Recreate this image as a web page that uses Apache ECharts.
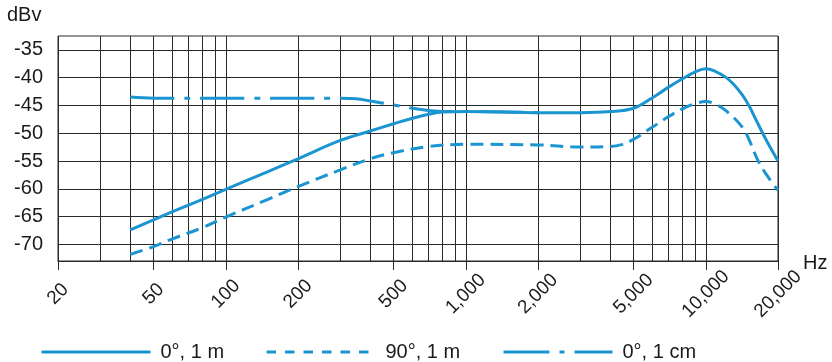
<!DOCTYPE html>
<html>
<head>
<meta charset="utf-8">
<script src="https://cdn.jsdelivr.net/npm/echarts@6/dist/echarts.min.js"></script>
<style>
html,body{margin:0;padding:0;background:#fff;}
#chart{width:832px;height:362px;}
</style>
</head>
<body>
<div id="chart"></div>
<script>
// ---- data ----
const seriesNames = ['0°, 1 m', '90°, 1 m', '0°, 1 cm'];
const tickHz = [20, 50, 100, 200, 500, 1000, 2000, 5000, 10000, 20000];
const gridHz = [20, 30, 40, 50, 60, 70, 80, 90, 100, 200, 300, 400, 500, 600, 700, 800, 900,
  1000, 2000, 3000, 4000, 5000, 6000, 7000, 8000, 9000, 10000, 20000];
const yTicks = [-35, -40, -45, -50, -55, -60, -65, -70];

const freq0 = [40, 50, 60, 80, 100, 150, 200, 300, 400, 500, 600, 700, 800, 1000, 2000, 3000, 4000, 5000, 6000, 7000, 8000, 9000, 10000, 11000, 12100, 13000, 14200, 15200, 16500, 18000, 20000];
const db0 = [-67.4, -65.6, -64.1, -61.9, -60.1, -56.9, -54.6, -51.3, -49.6, -48.3, -47.3, -46.6, -46.2, -46.1, -46.3, -46.3, -46.1, -45.5, -43.6, -41.7, -40.2, -39.0, -38.4, -38.9, -39.9, -41.1, -43.1, -45.2, -48.3, -51.5, -55.0];

const freq1 = [40, 50, 60, 80, 100, 150, 200, 300, 400, 500, 700, 1000, 2000, 3000, 4000, 4500, 5000, 6000, 7000, 8000, 9000, 10000, 11000, 12100, 14200, 15200, 16500, 18000, 20000];
const db1 = [-71.8, -70.4, -69.0, -67.0, -65.1, -61.9, -59.6, -56.6, -54.6, -53.5, -52.4, -52.0, -52.1, -52.5, -52.4, -52.0, -51.1, -48.9, -47.0, -45.6, -44.7, -44.3, -44.8, -45.9, -48.9, -51.3, -54.9, -57.6, -60.3];

const freq2 = [40, 50, 100, 200, 300, 350, 400, 500, 600, 700, 800, 1000, 2000];
const db2 = [-43.5, -43.7, -43.7, -43.7, -43.7, -43.8, -44.2, -44.9, -45.5, -45.9, -46.1, -46.1, -46.3];

// ---- styling ----
const BLUE = '#1b95d1';
const INK = '#1a1a1a';
const GRID = '#2a2a2a';
const FONT = '"Liberation Sans", Arial, sans-serif';

const lg = Math.log10;
const xMin = 20, xMax = 20000;
const fmtHz = v => String(Math.round(Math.pow(10, v))).replace(/\B(?=(\d{3})+(?!\d))/g, ',');
const pairs = (f, d) => f.map((x, i) => [x, d[i]]);

const lineStyles = [
  { width: 3, type: 'solid' },
  { width: 3, type: [13, 7] },
  { width: 3, type: [44, 10, 6, 10] }
];
const legendStyles = [
  { width: 3, type: 'solid' },
  { width: 3, type: [9.5, 9] },
  { width: 3, type: [46, 10, 5, 10] }
];
const legendLeft = [40, 265, 502];

const chart = echarts.init(document.getElementById('chart'), null, { renderer: 'canvas' });
chart.setOption({
  animation: false,
  backgroundColor: '#fff',
  textStyle: { fontFamily: FONT },
  grid: { left: 58, right: 54, top: 36, bottom: 101, show: true, borderColor: GRID, borderWidth: 1, backgroundColor: 'transparent' },
  xAxis: [
    { // data axis (logarithmic)
      type: 'log', logBase: 10, min: xMin, max: xMax,
      axisLine: { show: true, lineStyle: { color: GRID, width: 1 } },
      axisTick: { show: false }, axisLabel: { show: false },
      splitLine: { show: false }, minorTick: { show: false }, minorSplitLine: { show: false }
    },
    { // grid lines, aligned in log space
      type: 'value', min: lg(xMin), max: lg(xMax), position: 'bottom',
      axisLine: { show: false },
      axisTick: { show: false, customValues: gridHz.map(lg) },
      axisLabel: { show: false, customValues: gridHz.map(lg) },
      splitLine: { show: true, lineStyle: { color: GRID, width: 1 } }
    },
    { // labelled ticks
      type: 'value', min: lg(xMin), max: lg(xMax), position: 'bottom',
      axisLine: { show: false },
      axisTick: { show: true, length: 9, customValues: tickHz.map(lg), lineStyle: { color: GRID, width: 1 } },
      axisLabel: {
        customValues: tickHz.map(lg), formatter: fmtHz,
        rotate: 45, align: 'center', verticalAlign: 'middle', margin: 33,
        color: INK, fontSize: 19, fontFamily: FONT
      },
      splitLine: { show: false }
    }
  ],
  yAxis: {
    type: 'value', min: -73, max: -32.5,
    axisLine: { show: false },
    axisTick: { show: false, customValues: yTicks },
    axisLabel: { customValues: yTicks, color: INK, fontSize: 20, fontFamily: FONT, margin: 15 },
    splitLine: { show: true, lineStyle: { color: GRID, width: 1 } }
  },
  legend: seriesNames.map((n, i) => ({
    data: [n], left: legendLeft[i], top: 342, padding: 0,
    itemWidth: 109, itemHeight: 14, itemGap: 0,
    lineStyle: legendStyles[i],
    itemStyle: { color: 'rgba(0,0,0,0)', borderWidth: 0, opacity: 0 },
    textStyle: { color: INK, fontSize: 20, fontFamily: FONT, padding: [0, 0, 0, 5] }
  })),
  graphic: [
    { type: 'text', left: 7, top: 5, style: { text: 'dBv', fill: INK, font: '20px ' + FONT } },
    { type: 'text', left: 803, top: 253, style: { text: 'Hz', fill: INK, font: '20px ' + FONT } }
  ],
  series: [
    { name: seriesNames[2], type: 'line', xAxisIndex: 0, data: pairs(freq2, db2), smooth: 0.4, symbol: 'none', lineStyle: Object.assign({ color: BLUE }, lineStyles[2]), itemStyle: { color: BLUE }, z: 3 },
    { name: seriesNames[1], type: 'line', xAxisIndex: 0, data: pairs(freq1, db1), smooth: 0.4, symbol: 'none', lineStyle: Object.assign({ color: BLUE }, lineStyles[1]), itemStyle: { color: BLUE }, z: 3 },
    { name: seriesNames[0], type: 'line', xAxisIndex: 0, data: pairs(freq0, db0), smooth: 0.4, symbol: 'none', lineStyle: Object.assign({ color: BLUE }, lineStyles[0]), itemStyle: { color: BLUE }, z: 4 }
  ]
});
</script>
</body>
</html>
